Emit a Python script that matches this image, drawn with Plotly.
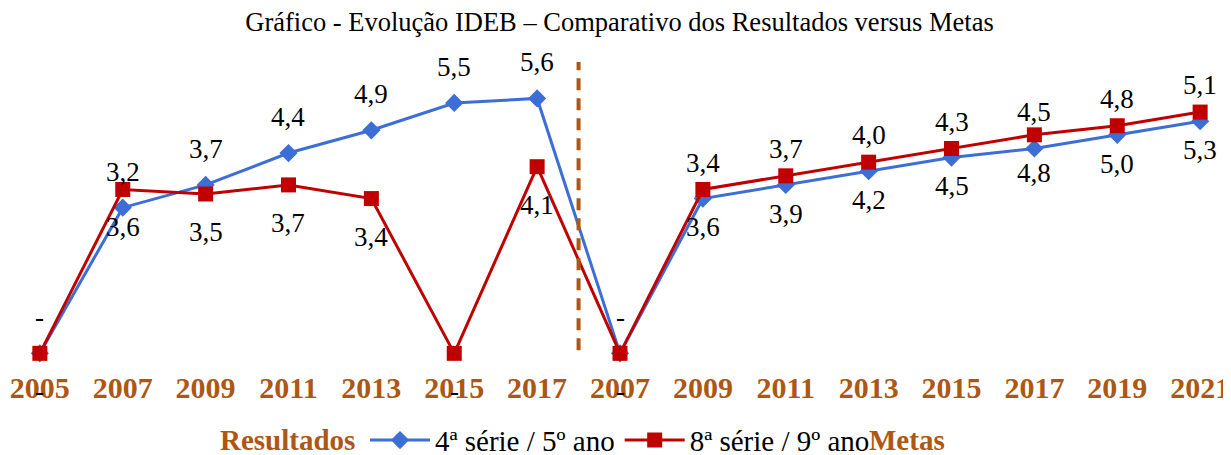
import plotly.graph_objects as go

categories = ["2005", "2007", "2009", "2011", "2013", "2015", "2017",
              "2007", "2009", "2011", "2013", "2015", "2017", "2019", "2021"]
serie_4 = [0, 3.2, 3.7, 4.4, 4.9, 5.5, 5.6, 0, 3.4, 3.7, 4.0, 4.3, 4.5, 4.8, 5.1]
serie_8 = [0, 3.6, 3.5, 3.7, 3.4, 0, 4.1, 0, 3.6, 3.9, 4.2, 4.5, 4.8, 5.0, 5.3]
name_4 = "4ª série / 5º ano"
name_8 = "8ª série / 9º ano"

BLUE = "#3B6FD6"
RED = "#C00000"
BROWN = "#AE5714"
FONT = "Liberation Serif"

xs = list(range(len(categories)))


def fmt(v):
    return "-" if v == 0 else f"{v:.1f}".replace(".", ",")


fig = go.Figure()
fig.add_trace(go.Scatter(x=xs, y=serie_4, name=name_4, mode="lines+markers",
                         line=dict(color=BLUE, width=3),
                         marker=dict(symbol="diamond", size=14, color=BLUE),
                         cliponaxis=False))
fig.add_trace(go.Scatter(x=xs, y=serie_8, name=name_8, mode="lines+markers",
                         line=dict(color=RED, width=3),
                         marker=dict(symbol="square", size=15, color=RED),
                         cliponaxis=False))

annotations = []
for x, v in zip(xs, serie_4):
    annotations.append(dict(x=x, y=v, xref="x", yref="y", text=fmt(v), showarrow=False,
                            yshift=36, font=dict(family=FONT, size=27, color="black")))
for x, v in zip(xs, serie_8):
    annotations.append(dict(x=x, y=v, xref="x", yref="y", text=fmt(v), showarrow=False,
                            yshift=-38, font=dict(family=FONT, size=27, color="black")))

annotations.append(dict(x=0.2256, y=-0.24, xref="paper", yref="paper", text="<b>Resultados</b>",
                        showarrow=False, xanchor="center", yanchor="middle",
                        font=dict(family=FONT, size=29, color=BROWN)))
annotations.append(dict(x=0.737, y=-0.24, xref="paper", yref="paper", text="<b>Metas</b>",
                        showarrow=False, xanchor="center", yanchor="middle",
                        font=dict(family=FONT, size=29, color=BROWN)))

fig.add_shape(type="line", x0=6.5, x1=6.5, y0=0.066, y1=6.55, xref="x", yref="y",
              line=dict(color=BROWN, width=4, dash="12px,8px"))

fig.update_layout(
    width=1223, height=447,
    paper_bgcolor="white", plot_bgcolor="white",
    margin=dict(l=7, r=6, t=54, b=88, autoexpand=False),
    title=dict(text="Gráfico - Evolução IDEB – Comparativo dos Resultados versus Metas",
               x=0.5, xanchor="center", y=0.969, yanchor="middle",
               font=dict(family=FONT, size=26.5, color="black")),
    xaxis=dict(range=[-0.3, 14.3], tickvals=xs, ticktext=categories, showgrid=False,
               zeroline=False, showline=False, ticks="", automargin=False,
               tickfont=dict(family=FONT, size=30, color=BROWN, weight="bold")),
    yaxis=dict(range=[-0.3, 6.4], visible=False, showgrid=False, zeroline=False,
               automargin=False),
    legend=dict(orientation="h", x=0.5, y=-0.24, xanchor="center", yanchor="middle",
                font=dict(family=FONT, size=29, color="black"), itemwidth=60,
                bgcolor="rgba(0,0,0,0)"),
    annotations=annotations,
)

fig.write_html("out.html")
